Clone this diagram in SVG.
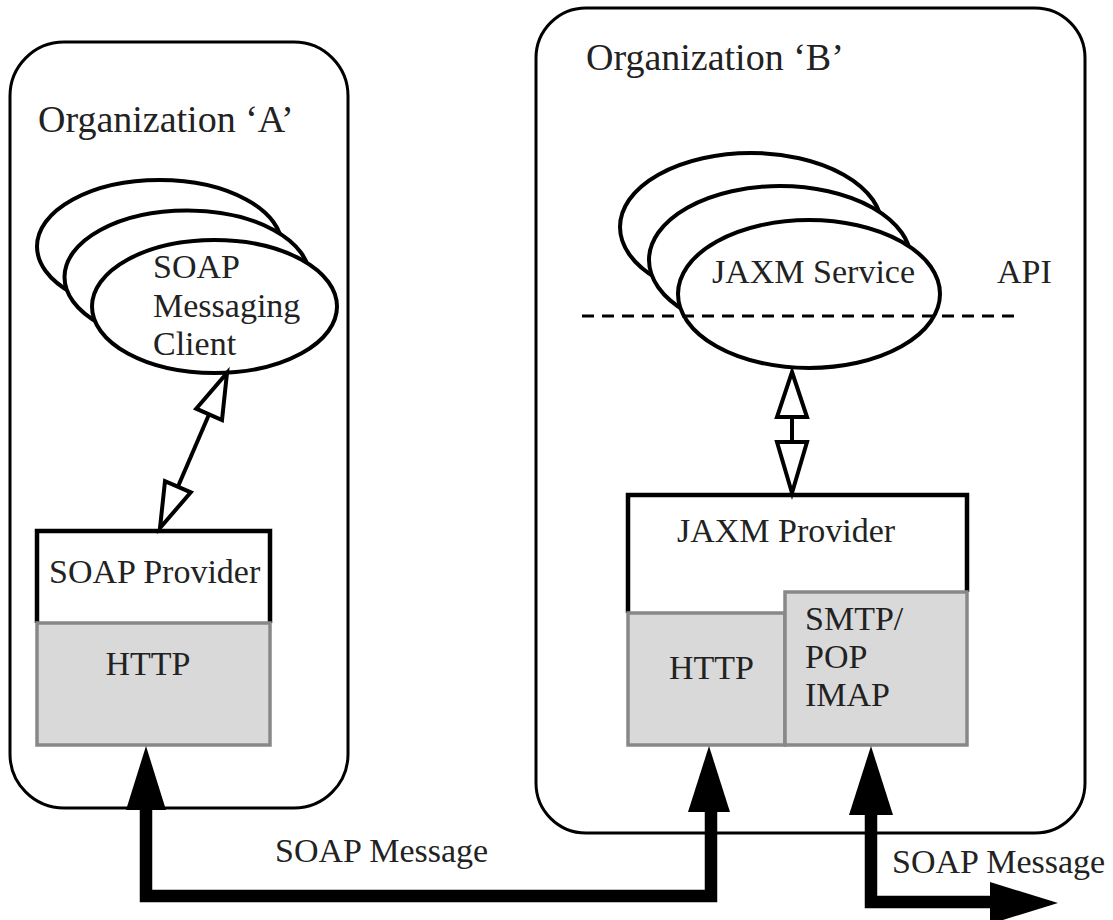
<svg xmlns="http://www.w3.org/2000/svg" width="1113" height="920" viewBox="0 0 1113 920">
<style>
text{font-family:"Liberation Serif","Times New Roman",serif;fill:#222}
.t38{font-size:38px}
.t34{font-size:34px}
.org{fill:#fff;stroke:#000;stroke-width:3}
.ell{fill:#fff;stroke:#000;stroke-width:4}
.wbox{fill:none;stroke:#000;stroke-width:4.5;stroke-linejoin:miter}
.gbox{fill:#d9d9d9;stroke:#888;stroke-width:3.5}
.hollow{fill:#fff;stroke:#000;stroke-width:4;stroke-linejoin:miter}
.thin{stroke:#000;stroke-width:4;fill:none}
.thick{stroke:#000;stroke-width:12.5;fill:none;stroke-linejoin:miter}
.head{fill:#000}
</style>
<rect width="1113" height="920" fill="#fff"/>
<g id="orgA">
<rect class="org" x="10" y="42" width="338" height="766" rx="54" ry="54"/>
<text class="t38" x="38" y="132">Organization ‘A’</text>
</g>
<g id="orgB">
<rect class="org" x="536" y="8" width="549" height="825" rx="50" ry="50"/>
<text class="t38" x="586" y="70">Organization ‘B’</text>
</g>
<g id="client">
<ellipse class="ell" cx="159.5" cy="246.5" rx="122.5" ry="66.5"/>
<ellipse class="ell" cx="187" cy="277" rx="122.5" ry="66.5"/>
<ellipse class="ell" cx="214.5" cy="306.5" rx="122.5" ry="66.5"/>
<text class="t34" x="153" y="278">SOAP</text>
<text class="t34" x="153" y="317">Messaging</text>
<text class="t34" x="153" y="355">Client</text>
</g>
<g id="service">
<ellipse class="ell" cx="751" cy="227" rx="131" ry="74"/>
<ellipse class="ell" cx="780" cy="260" rx="131" ry="74"/>
<ellipse class="ell" cx="809" cy="294" rx="131" ry="74"/>
<text class="t34" x="712" y="283">JAXM Service</text>
</g>
<g id="api">
<line x1="582" y1="316" x2="1017" y2="316" stroke="#000" stroke-width="3" stroke-dasharray="12 8"/>
<text class="t34" x="997" y="283">API</text>
</g>
<g id="soapProvider">
<rect x="37" y="531" width="233" height="92" fill="#fff"/>
<path class="wbox" d="M37 623 V531 H270 V623"/>
<rect class="gbox" x="37" y="623" width="233" height="122"/>
<text class="t34" x="49" y="583">SOAP Provider</text>
<text class="t34" x="148" y="675" text-anchor="middle">HTTP</text>
</g>
<g id="jaxmProvider">
<rect x="628" y="495" width="339" height="118" fill="#fff"/>
<path class="wbox" d="M628 613 V495 H967 V592"/>
<rect class="gbox" x="628" y="613" width="157" height="132"/>
<rect class="gbox" x="785" y="592" width="182" height="153"/>
<text class="t34" x="677" y="542">JAXM Provider</text>
<text class="t34" x="669" y="679">HTTP</text>
<text class="t34" x="805" y="630">SMTP/</text>
<text class="t34" x="805" y="668">POP</text>
<text class="t34" x="805" y="706">IMAP</text>
</g>
<g id="connectors">
<line class="thin" x1="209.1" y1="414.3" x2="177.9" y2="486.7"/>
<polygon class="hollow" points="227,373 222,420 196.2,408.7"/>
<polygon class="hollow" points="160,528 190.8,492.3 165,481.1"/>
<line class="thin" x1="792" y1="417" x2="792" y2="442"/>
<polygon class="hollow" points="792,372 807,417 777,417"/>
<polygon class="hollow" points="792,493 807,442 777,442"/>
<path class="thick" d="M146 808 V896 H711 V810"/>
<polygon class="head" points="146,746 126,810 166,810"/>
<polygon class="head" points="709,746 688,812 730,812"/>
<path class="thick" d="M871 812 V902 H992"/>
<polygon class="head" points="871,746 849,815 893,815"/>
<polygon class="head" points="990,882 1058,903 990,924"/>
<text class="t34" x="275" y="862">SOAP Message</text>
<text class="t34" x="892" y="873">SOAP Message</text>
</g>
</svg>
